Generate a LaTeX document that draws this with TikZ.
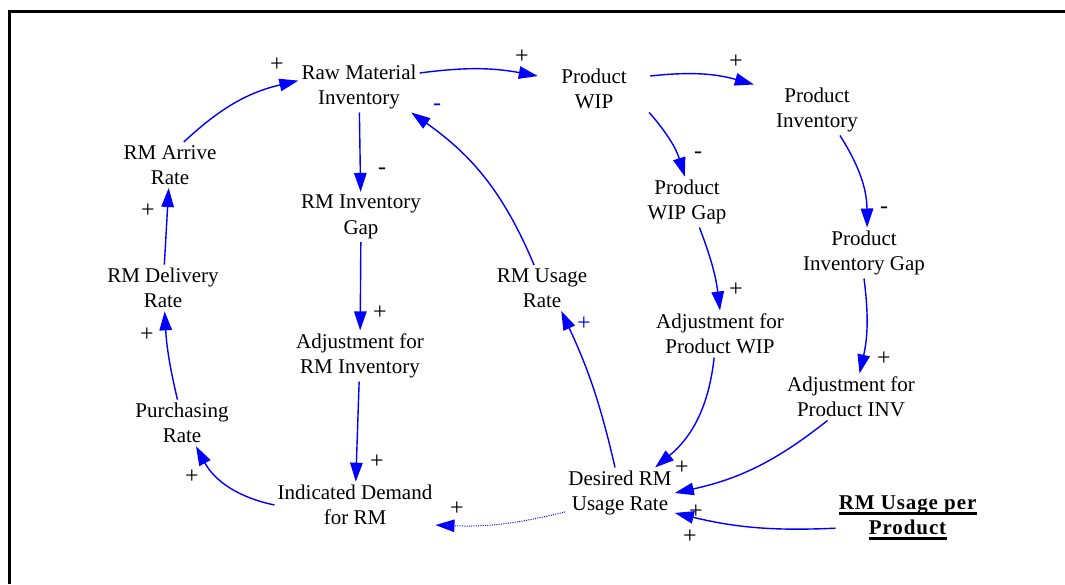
\documentclass[tikz,border=0pt]{standalone}
\usepackage{fontspec}
\setmainfont{Liberation Serif}
\usetikzlibrary{arrows.meta}
\newcommand\ulx[1]{\setbox0=\hbox{#1}\rlap{\vrule height -2.3pt depth 5.3pt width \wd0}\box0}
\tikzset{
  var/.style={font=\fontsize{21}{25.5}\selectfont, align=center, inner sep=3pt},
  sgn/.style={font=\fontsize{24}{25.5}\selectfont, inner sep=0pt},
  link/.style={draw=blue, line width=1.4pt, -{Triangle[length=19pt,width=12.5pt]}},
  dotlink/.style={link, line width=1pt, dash pattern=on 1pt off 1.3pt},
  frame/.style={draw=black, line width=2.7pt}
}
\begin{document}
\begin{tikzpicture}[x=1pt,y=1pt]
\useasboundingbox (0,0) rectangle (1065,-584);
\coordinate (fa) at (9.7,-584);
\coordinate (fb) at (9.7,-11.2);
\coordinate (fc) at (1065,-11.2);
\draw[frame] (fa) -- (fb) -- (fc);

\node[var] (rmi) at (359,-87) {Raw Material\\Inventory};
\node[var, minimum width=112] (pwip) at (594,-89) {Product\\WIP};
\node[var, minimum width=136] (pinv) at (817,-110) {Product\\Inventory};
\node[var] (arrive) at (170,-165) {RM Arrive\\Rate};
\node[var] (deliv) at (163,-288) {RM Delivery\\Rate};
\node[var] (purch) at (182,-423) {Purchasing\\Rate};
\node[var] (rmigap) at (361,-217) {RM Inventory\\Gap};
\node[var] (adjrm) at (360,-356) {Adjustment for\\RM Inventory};
\node[var] (indic) at (355,-505) {Indicated Demand\\for RM};
\node[var] (rmuse) at (542,-288) {RM Usage\\Rate};
\node[var] (pwipgap) at (687,-202) {Product\\WIP Gap};
\node[var] (adjpwip) at (720,-334) {Adjustment for\\Product WIP};
\node[var] (pinvgap) at (864,-253) {Product\\Inventory Gap};
\node[var] (adjpinv) at (851,-397) {Adjustment for\\Product INV};
\node[var] (desired) at (620,-493) {Desired RM\\Usage Rate};
\node[var] (rmupp) at (908,-518) {\addfontfeature{LetterSpace=4.3}\ulx{\textbf{RM Usage per}}\\\addfontfeature{LetterSpace=4.3}\ulx{\textbf{Product}}};

\draw[link] (arrive.59) to[bend left=15] (rmi.174);
\draw[link] (deliv) -- (arrive);
\draw[link] (purch.101) to[bend left=5] (deliv.-86);
\draw[link] (indic.west) to[bend left=25] (purch.-59);
\draw[link] (rmi) -- (rmigap);
\draw[link] (rmigap) -- (adjrm);
\draw[link] (adjrm) -- (indic);
\draw[dotlink] (desired.199) to[bend left=8] (indic.-14);
\draw[link] (desired.101) to[bend right=6] (rmuse.-50);
\draw[link] (rmuse.109) to[bend right=16] (rmi.-26);
\draw[link] (rmi.13) to[bend left=9] (pwip.167);
\draw[link] (pwip.13) to[bend left=11] (pinv.158);
\draw[link] (pwip.-23) to[bend left=12] (pwipgap.95);
\draw[link] (pinv.-48) to[bend left=16] (pinvgap.83);
\draw[link] (pwipgap.-64) to[bend left=7] (adjpwip.north);
\draw[link] (pinvgap.south) to[bend left=10] (adjpinv.70);
\draw[link] (adjpwip.-104) to[bend left=22] (desired.36);
\draw[link] (adjpinv.-135) to[bend left=13] (desired.east);
\draw[link] (rmupp.188) to[bend left=8] (desired.-20);

\node[sgn] (s1) at (277,-65) {+};
\node[sgn] (s2) at (148,-211) {+};
\node[sgn] (s3) at (147,-335) {+};
\node[sgn] (s4) at (192,-477) {+};
\node[sgn] (s5) at (382,-171) {-};
\node[sgn] (s6) at (380,-313) {+};
\node[sgn] (s7) at (377,-462) {+};
\node[sgn] (s8) at (457,-509) {+};
\node[sgn, text=blue] (s9) at (584,-324) {+};
\node[sgn, text=blue] (s10) at (437,-107) {-};
\node[sgn] (s11) at (522,-57) {+};
\node[sgn] (s12) at (736,-62) {+};
\node[sgn] (s13) at (698,-155) {-};
\node[sgn] (s14) at (884,-210) {-};
\node[sgn] (s15) at (736,-290) {+};
\node[sgn] (s16) at (884,-359) {+};
\node[sgn] (s17) at (682,-468) {+};
\node[sgn] (s18) at (696,-512) {+};
\node[sgn] (s19) at (690,-537) {+};
\end{tikzpicture}
\end{document}
